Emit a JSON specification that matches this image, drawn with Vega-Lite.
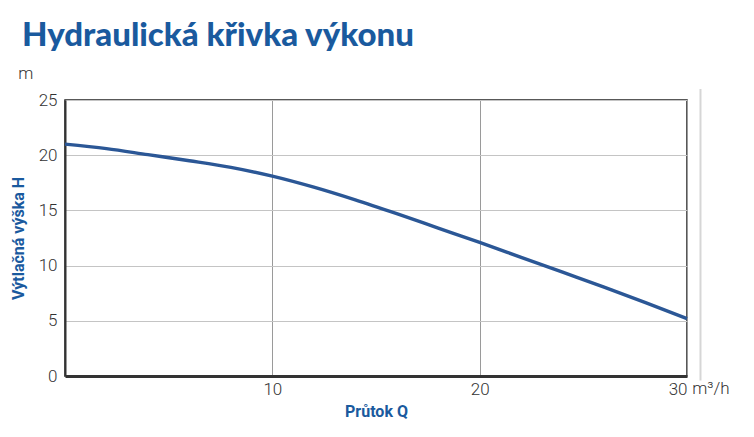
{
  "$schema": "https://vega.github.io/schema/vega-lite/v6.json",
  "autosize": "none",
  "width": 622,
  "height": 276,
  "padding": {"left": 65, "top": 100, "right": 67, "bottom": 61},
  "title": {
    "text": "Hydraulická křivka výkonu",
    "anchor": "start",
    "frame": "group",
    "dx": -43,
    "offset": 12,
    "font": "Lato",
    "fontSize": 33,
    "fontWeight": 900,
    "color": "#1a5a9e"
  },
  "datasets": {
    "curve": [
      {"Q": 0, "H": 21.0},
      {"Q": 2, "H": 20.6},
      {"Q": 4, "H": 20.05},
      {"Q": 6, "H": 19.5},
      {"Q": 8, "H": 18.9},
      {"Q": 10, "H": 18.1},
      {"Q": 12, "H": 17.1},
      {"Q": 14, "H": 15.95},
      {"Q": 16, "H": 14.7},
      {"Q": 18, "H": 13.4},
      {"Q": 20, "H": 12.1},
      {"Q": 22, "H": 10.75},
      {"Q": 24, "H": 9.4},
      {"Q": 26, "H": 8.05},
      {"Q": 28, "H": 6.65},
      {"Q": 30, "H": 5.2}
    ],
    "units": [
      {"Q": -2.25, "H": 27.4, "label": "m"},
      {"Q": 30.25, "H": -1.2, "label": "m³/h"}
    ],
    "edge": [
      {"Q": 30.65, "H": -0.4, "H2": 26.0}
    ]
  },
  "data": {"name": "curve"},
  "layer": [
    {
      "data": {"name": "edge"},
      "mark": {"type": "rule", "color": "#d6d6d6", "strokeWidth": 2, "clip": false},
      "encoding": {
        "x": {"field": "Q", "type": "quantitative"},
        "y": {"field": "H", "type": "quantitative"},
        "y2": {"field": "H2"}
      }
    },
    {
      "mark": {"type": "line", "color": "#2b5796", "strokeWidth": 3.4, "interpolate": "monotone"},
      "encoding": {
        "x": {
          "field": "Q",
          "type": "quantitative",
          "scale": {"domain": [0, 30], "nice": false},
          "axis": {
            "title": "Průtok Q",
            "values": [10, 20, 30],
            "ticks": false,
            "labelPadding": 5,
            "labelFlush": true,
            "titlePadding": 6,
            "domainColor": "#333333",
            "domainWidth": 3,
            "gridColor": "#9a9a9a"
          }
        },
        "y": {
          "field": "H",
          "type": "quantitative",
          "scale": {"domain": [0, 25], "nice": false},
          "axis": {
            "title": "Výtlačná výška H",
            "values": [0, 5, 10, 15, 20, 25],
            "ticks": false,
            "labelPadding": 8,
            "titlePadding": 12,
            "domainColor": "#333333",
            "domainWidth": 2,
            "gridColor": "#c4c4c4"
          }
        }
      }
    },
    {
      "data": {"name": "units"},
      "mark": {"type": "text", "font": "Roboto", "fontSize": 17, "fontWeight": 300, "color": "#333333", "align": "left", "baseline": "middle", "clip": false},
      "encoding": {
        "x": {"field": "Q", "type": "quantitative"},
        "y": {"field": "H", "type": "quantitative"},
        "text": {"field": "label"}
      }
    }
  ],
  "config": {
    "view": {"stroke": "#222222", "strokeWidth": 1.5},
    "axis": {
      "labelFont": "Roboto",
      "labelFontSize": 17,
      "labelFontWeight": 300,
      "labelColor": "#333333",
      "titleFont": "Roboto",
      "titleFontSize": 16,
      "titleFontWeight": "bold",
      "titleColor": "#1a5a9e",
      "gridWidth": 1
    }
  }
}
